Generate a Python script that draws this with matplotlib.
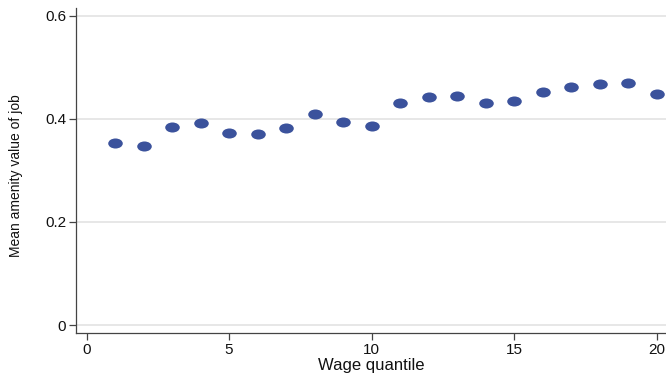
import matplotlib
matplotlib.use('Agg')
import matplotlib.pyplot as plt
from matplotlib.path import Path
from matplotlib.transforms import Affine2D

plt.rcParams['font.family'] = ['Liberation Sans', 'DejaVu Sans']

# wage quantile and mean amenity value
quantile = list(range(1, 21))
amenity = [0.354, 0.348, 0.384, 0.392, 0.372, 0.370, 0.383, 0.410, 0.393, 0.386,
           0.431, 0.443, 0.445, 0.431, 0.434, 0.452, 0.462, 0.467, 0.469, 0.449]
yticks = [0, 0.2, 0.4, 0.6]
xticks = [0, 5, 10, 15, 20]

# markers in the picture are a bit wider than tall
ellipse = Path.unit_circle().transformed(Affine2D().scale(1.45, 1.0))

fig = plt.figure(figsize=(6.66, 3.73), dpi=100)
ax = fig.add_axes([0.1141, 0.107, 0.8859, 0.8716])

ax.scatter(quantile, amenity, marker=ellipse, s=110, color='#3b529c', zorder=3,
           linewidths=0)

ax.set_xlim(-0.37, 20.33)
ax.set_ylim(-0.0155, 0.615)
ax.set_yticks(yticks)
ax.set_yticklabels(['0', '0.2', '0.4', '0.6'])
ax.set_xticks(xticks)

ax.grid(axis='y', color='#e3e3e3', linewidth=1.2, zorder=0)
ax.set_axisbelow(True)

for s in ['top', 'right']:
    ax.spines[s].set_visible(False)
for s in ['left', 'bottom']:
    ax.spines[s].set_color('#444444')
    ax.spines[s].set_linewidth(0.9)

ax.tick_params(axis='both', direction='out', length=5, width=0.9, color='#444444',
               labelsize=11, labelcolor='#111111', pad=2)

ax.set_xlabel('Wage quantile', fontsize=12, color='#111111', labelpad=1)
ax.set_ylabel('Mean amenity value of job', fontsize=10, color='#111111',
              va='center')
ax.yaxis.set_label_coords(-0.102, 0.483)

fig.savefig('out.png', dpi=100)
